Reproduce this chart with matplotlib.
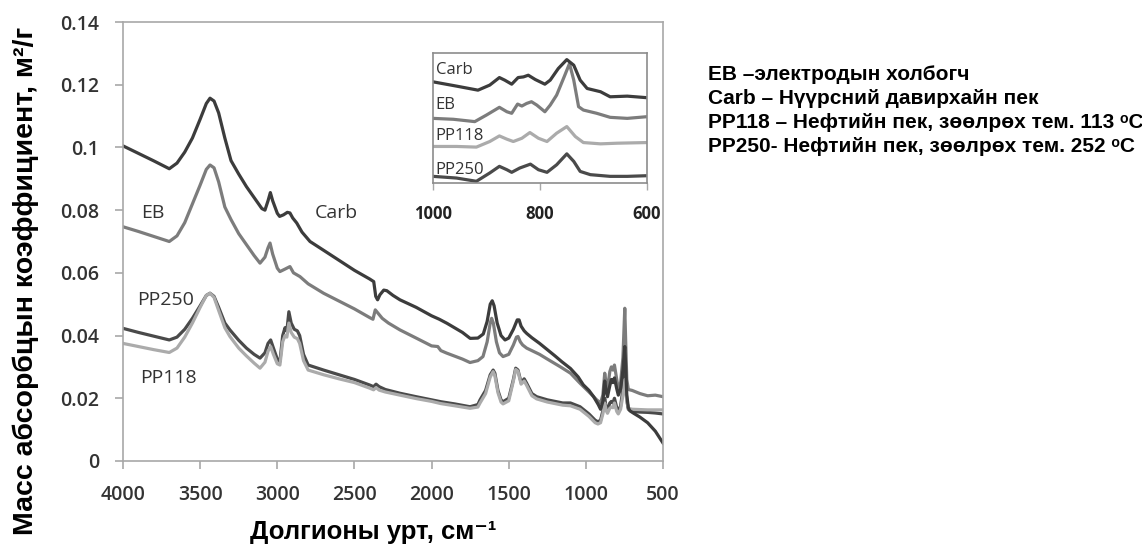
import matplotlib
matplotlib.use("Agg")
import matplotlib.pyplot as plt

# mass absorption coefficient spectra, m2/g, vs wavenumber cm-1
carb_wn = [4000, 3900, 3800, 3700, 3650, 3600, 3550, 3500, 3460, 3436, 3410, 3380, 3340, 3300,
           3250, 3200, 3150, 3100, 3080, 3060, 3045, 3030, 3000, 2985, 2960, 2935, 2918, 2900,
           2874, 2840, 2788, 2700, 2600, 2500, 2400, 2375, 2362, 2350, 2335, 2310, 2290, 2250,
           2205, 2100, 2000, 1950, 1900, 1800, 1750, 1700, 1665, 1640, 1620, 1607, 1595, 1575,
           1550, 1524, 1500, 1470, 1445, 1433, 1420, 1400, 1384, 1350, 1300, 1250, 1200, 1157,
           1100, 1050, 1017, 980, 950, 920, 905, 890, 878, 868, 860, 845, 835, 825, 815, 800,
           790, 775, 760, 748, 742, 735, 725, 715, 690, 650, 600, 550, 500]
carb_k = [0.1005, 0.0981, 0.0957, 0.0932, 0.0950, 0.0985, 0.1030, 0.1090, 0.1140, 0.1157, 0.1148,
          0.1110, 0.1030, 0.0958, 0.0915, 0.0875, 0.0840, 0.0805, 0.0800, 0.0830, 0.0856, 0.0830,
          0.0790, 0.0780, 0.0785, 0.0793, 0.0791, 0.0775, 0.0759, 0.0730, 0.0700, 0.0672, 0.0640,
          0.0608, 0.0580, 0.0572, 0.0525, 0.0514, 0.0530, 0.0545, 0.0543, 0.0528, 0.0514, 0.0490,
          0.0463, 0.0452, 0.0439, 0.0410, 0.0391, 0.0392, 0.0405, 0.0445, 0.0500, 0.0511, 0.0495,
          0.0440, 0.0400, 0.0386, 0.0392, 0.0420, 0.0450, 0.0450, 0.0430, 0.0415, 0.0407, 0.0393,
          0.0375, 0.0355, 0.0335, 0.0317, 0.0295, 0.0268, 0.0243, 0.0225, 0.0205, 0.0180, 0.0165,
          0.0190, 0.0255, 0.0220, 0.0205, 0.0240, 0.0260, 0.0250, 0.0265, 0.0230, 0.0210, 0.0230,
          0.0290, 0.0365, 0.0300, 0.0210, 0.0170, 0.0160, 0.0152, 0.0140, 0.0122, 0.0095, 0.0057]

eb_wn = [4000, 3900, 3800, 3700, 3650, 3600, 3550, 3500, 3460, 3436, 3410, 3380, 3340, 3300,
         3250, 3200, 3150, 3112, 3080, 3060, 3047, 3030, 3000, 2983, 2950, 2918, 2895, 2853,
         2800, 2700, 2600, 2500, 2400, 2380, 2365, 2345, 2320, 2280, 2205, 2100, 2000, 1960,
         1940, 1902, 1800, 1751, 1700, 1667, 1640, 1620, 1611, 1600, 1580, 1560, 1537, 1500,
         1470, 1450, 1440, 1425, 1410, 1384, 1300, 1250, 1168, 1100, 1038, 980, 930, 905, 890,
         878, 868, 860, 845, 835, 825, 815, 800, 790, 775, 760, 748, 742, 735, 725, 700, 650,
         600, 550, 500]
eb_k = [0.0747, 0.0732, 0.0716, 0.0700, 0.0718, 0.0760, 0.0820, 0.0880, 0.0930, 0.0944, 0.0935,
        0.0890, 0.0810, 0.0770, 0.0725, 0.0690, 0.0655, 0.0631, 0.0650, 0.0680, 0.0695, 0.0660,
        0.0615, 0.0604, 0.0612, 0.0620, 0.0600, 0.0588, 0.0565, 0.0535, 0.0510, 0.0485, 0.0457,
        0.0452, 0.0482, 0.0470, 0.0455, 0.0440, 0.0418, 0.0392, 0.0367, 0.0365, 0.0352, 0.0344,
        0.0325, 0.0314, 0.0320, 0.0333, 0.0380, 0.0440, 0.0455, 0.0440, 0.0380, 0.0345, 0.0333,
        0.0340, 0.0370, 0.0395, 0.0397, 0.0380, 0.0370, 0.0360, 0.0340, 0.0325, 0.0301, 0.0280,
        0.0248, 0.0220, 0.0195, 0.0185, 0.0210, 0.0280, 0.0245, 0.0230, 0.0285, 0.0300, 0.0290,
        0.0306, 0.0260, 0.0230, 0.0250, 0.0330, 0.0487, 0.0380, 0.0260, 0.0228, 0.0225, 0.0215,
        0.0208, 0.0210, 0.0205]

pp_wn = [4000, 3900, 3800, 3700, 3650, 3600, 3550, 3500, 3460, 3436, 3410, 3380, 3340, 3307,
         3250, 3200, 3150, 3112, 3080, 3060, 3043, 3025, 3000, 2983, 2965, 2950, 2938, 2925,
         2910, 2890, 2870, 2855, 2830, 2800, 2700, 2600, 2500, 2400, 2376, 2360, 2340, 2300,
         2205, 2100, 2000, 1940, 1850, 1751, 1700, 1686, 1650, 1620, 1601, 1590, 1570, 1550,
         1537, 1500, 1470, 1455, 1440, 1420, 1400, 1385, 1350, 1319, 1250, 1150, 1100, 1038,
         980, 940, 922, 905, 890, 878, 868, 860, 845, 835, 825, 815, 800, 790, 775, 760, 748,
         742, 735, 725, 700, 650, 600, 550, 500]
pp250_k = [0.0423, 0.0410, 0.0398, 0.0386, 0.0395, 0.0420, 0.0455, 0.0495, 0.0528, 0.0535, 0.0525,
           0.0490, 0.0440, 0.0418, 0.0385, 0.0360, 0.0340, 0.0328, 0.0345, 0.0375, 0.0386, 0.0360,
           0.0325, 0.0317, 0.0400, 0.0425, 0.0415, 0.0476, 0.0440, 0.0420, 0.0415, 0.0400, 0.0340,
           0.0306, 0.0290, 0.0275, 0.0260, 0.0242, 0.0237, 0.0245, 0.0237, 0.0228, 0.0216, 0.0205,
           0.0195, 0.0189, 0.0182, 0.0173, 0.0180, 0.0195, 0.0225, 0.0275, 0.0290, 0.0280, 0.0225,
           0.0195, 0.0189, 0.0200, 0.0260, 0.0296, 0.0290, 0.0250, 0.0262, 0.0249, 0.0215, 0.0205,
           0.0195, 0.0185, 0.0185, 0.0173, 0.0150, 0.0130, 0.0125, 0.0130, 0.0160, 0.0200, 0.0170,
           0.0160, 0.0185, 0.0190, 0.0185, 0.0200, 0.0170, 0.0160, 0.0175, 0.0230, 0.0300, 0.0250,
           0.0195, 0.0165, 0.0158, 0.0156, 0.0155, 0.0153, 0.0150]
pp118_k = [0.0375, 0.0365, 0.0355, 0.0346, 0.0360, 0.0395, 0.0440, 0.0490, 0.0528, 0.0535, 0.0522,
           0.0480, 0.0425, 0.0397, 0.0360, 0.0335, 0.0312, 0.0296, 0.0315, 0.0350, 0.0365, 0.0340,
           0.0310, 0.0306, 0.0380, 0.0400, 0.0395, 0.0440, 0.0410, 0.0395, 0.0390, 0.0375, 0.0320,
           0.0290, 0.0275, 0.0262, 0.0250, 0.0232, 0.0227, 0.0234, 0.0226, 0.0220, 0.0210, 0.0199,
           0.0190, 0.0183, 0.0176, 0.0168, 0.0172, 0.0185, 0.0215, 0.0268, 0.0285, 0.0272, 0.0218,
           0.0188, 0.0182, 0.0192, 0.0255, 0.0292, 0.0286, 0.0245, 0.0255, 0.0242, 0.0208, 0.0198,
           0.0188, 0.0178, 0.0176, 0.0165, 0.0142, 0.0122, 0.0118, 0.0122, 0.0150, 0.0185, 0.0160,
           0.0152, 0.0168, 0.0172, 0.0170, 0.0185, 0.0158, 0.0150, 0.0165, 0.0210, 0.0260, 0.0230,
           0.0190, 0.0168, 0.0165, 0.0164, 0.0163, 0.0163, 0.0163]

# 1000-600 cm-1 region, stacked with offsets (relative units)
ins_carb_wn = [1000, 956, 916, 894, 876, 866, 853, 841, 831, 822, 809, 791, 781, 766, 750, 737,
               725, 712, 687, 669, 637, 600]
ins_carb = [0.778, 0.745, 0.714, 0.753, 0.811, 0.791, 0.760, 0.811, 0.816, 0.829, 0.796, 0.760,
            0.791, 0.880, 0.949, 0.906, 0.791, 0.727, 0.702, 0.663, 0.668, 0.656]
ins_eb_wn = [1000, 962, 922, 900, 876, 862, 853, 842, 834, 825, 816, 806, 791, 781, 769, 755, 745,
             737, 728, 719, 694, 669, 637, 600]
ins_eb = [0.497, 0.490, 0.472, 0.523, 0.582, 0.548, 0.536, 0.607, 0.592, 0.612, 0.625, 0.599, 0.548,
          0.599, 0.676, 0.816, 0.918, 0.791, 0.587, 0.561, 0.536, 0.505, 0.497, 0.510]
ins_pp118_wn = [1000, 956, 919, 894, 876, 862, 850, 834, 819, 803, 787, 769, 750, 734, 719, 687,
                656, 600]
ins_pp118 = [0.281, 0.281, 0.276, 0.319, 0.362, 0.337, 0.319, 0.344, 0.388, 0.344, 0.319, 0.383,
             0.434, 0.357, 0.311, 0.301, 0.306, 0.311]
ins_pp250_wn = [1000, 956, 919, 894, 876, 862, 853, 838, 818, 803, 787, 769, 750, 737, 725, 706,
                669, 637, 600]
ins_pp250 = [0.051, 0.038, 0.013, 0.077, 0.128, 0.102, 0.082, 0.115, 0.145, 0.102, 0.082, 0.140,
             0.224, 0.166, 0.089, 0.064, 0.051, 0.051, 0.056]

x_ticks = [4000, 3500, 3000, 2500, 2000, 1500, 1000, 500]
y_ticks = [0, 0.02, 0.04, 0.06, 0.08, 0.1, 0.12, 0.14]
y_tick_labels = ['0', '0.02', '0.04', '0.06', '0.08', '0.1', '0.12', '0.14']
inset_ticks = [1000, 800, 600]

legend_lines = [
    'EB \u2013электродын холбогч',
    'Carb \u2013 Нүүрсний давирхайн пек',
    'PP118 \u2013 Нефтийн пек, зөөлрөх тем. 113 \u1d52C',
    'PP250- Нефтийн пек, зөөлрөх тем. 252 \u1d52C',
]

c_carb = '#3c3c3c'
c_eb = '#7c7c7c'
c_pp250 = '#4a4a4a'
c_pp118 = '#ababab'
spine_c = '#a8a8a8'
chart_font = ['Open Sans', 'DejaVu Sans']
word_font = ['Liberation Sans', 'DejaVu Sans']

fig = plt.figure(figsize=(11.42, 5.53), dpi=100)
ax = fig.add_axes([0.1077, 0.1664, 0.4729, 0.7938])

lw = 2.3
ax.plot(pp_wn, pp250_k, color=c_pp250, lw=lw)
ax.plot(pp_wn, pp118_k, color=c_pp118, lw=lw)
ax.plot(eb_wn, eb_k, color=c_eb, lw=lw)
ax.plot(carb_wn, carb_k, color=c_carb, lw=lw)

ax.set_xlim(4000, 500)
ax.set_ylim(0, 0.14)
ax.set_xticks(x_ticks)
ax.set_xticklabels([str(t) for t in x_ticks])
ax.set_yticks(y_ticks)
ax.set_yticklabels(y_tick_labels)
for lab in ax.get_xticklabels() + ax.get_yticklabels():
    lab.set_family(chart_font)
    lab.set_fontsize(14)
    lab.set_fontweight('semibold')
    lab.set_color('#333333')
ax.tick_params(direction='out', length=6, width=1.2, color=spine_c, pad=11)
for s in ax.spines.values():
    s.set_color(spine_c)
    s.set_linewidth(1.2)

# curve names
for txt, xx, yy in [('EB', 3806, 0.0791), ('Carb', 2620, 0.0791),
                     ('PP250', 3721, 0.0513), ('PP118', 3708, 0.0265)]:
    ax.text(xx, yy, txt, ha='center', va='center', fontsize=14,
            family=chart_font, color='#333333')

# axis titles placed in figure coordinates
fig.text(26 / 1142, 1 - 281 / 553, 'Масс абсорбцын коэффициент, м\u00b2/г',
         rotation=90, ha='center', va='center', family=word_font,
         fontsize=20.5, fontweight='bold')
fig.text(373 / 1142, 1 - 532 / 553, 'Долгионы урт, см\u207b\u00b9',
         ha='center', va='center', family=word_font,
         fontsize=18.5, fontweight='bold')

# fingerprint region inset
ins = fig.add_axes([0.3792, 0.6691, 0.1874, 0.2351])
ins.plot(ins_pp250_wn, ins_pp250, color=c_pp250, lw=lw)
ins.plot(ins_pp118_wn, ins_pp118, color=c_pp118, lw=lw)
ins.plot(ins_eb_wn, ins_eb, color=c_eb, lw=lw)
ins.plot(ins_carb_wn, ins_carb, color=c_carb, lw=lw)
ins.set_xlim(1000, 600)
ins.set_ylim(0, 1)
ins.set_xticks(inset_ticks)
ins.set_xticklabels([str(t) for t in inset_ticks])
ins.set_yticks([])
for lab in ins.get_xticklabels():
    lab.set_family(chart_font)
    lab.set_fontsize(12)
    lab.set_fontweight('bold')
    lab.set_color('#222222')
ins.tick_params(direction='out', length=5, width=1, color=spine_c, pad=11)
for s in ins.spines.values():
    s.set_color('#8c8c8c')
    s.set_linewidth(1.2)
for txt, yy in [('Carb', 0.867), ('EB', 0.60), ('PP118', 0.362), ('PP250', 0.102)]:
    ins.text(0.012, yy, txt, transform=ins.transAxes, ha='left', va='center',
             fontsize=12, family=chart_font, color='#333333')

# sample legend to the right
for i, line in enumerate(legend_lines):
    fig.text(708 / 1142, 1 - (74 + 24.3 * i) / 553, line, ha='left', va='center',
             fontsize=15, fontweight='bold', family=word_font, color='black')

fig.savefig('out.png', dpi=100)
